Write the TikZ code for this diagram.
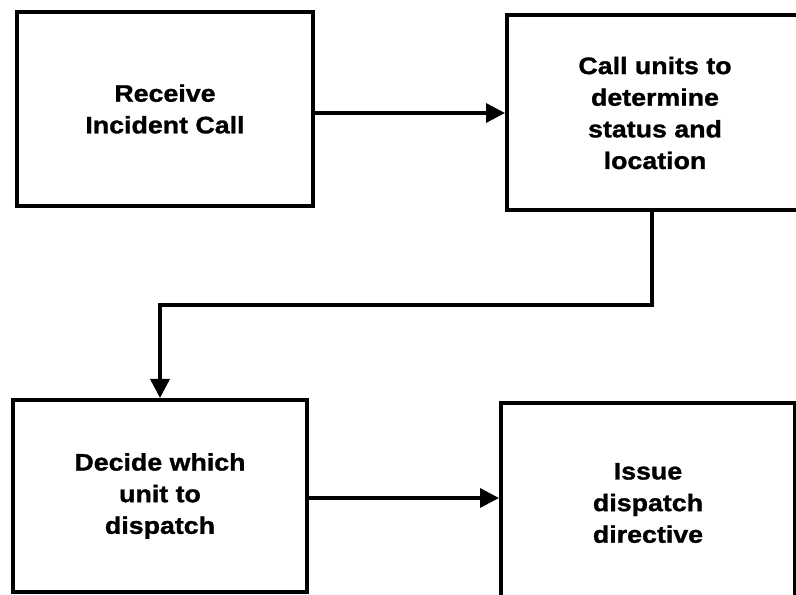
\documentclass[tikz,border=0pt]{standalone}
\usepackage{fontspec}
\setmainfont{Liberation Sans}[FakeStretch=1.12,BoldFeatures={FakeBold=1.2}]
\usetikzlibrary{arrows.meta,positioning}

\begin{document}
\begin{tikzpicture}[x=0.25mm,y=-0.25mm,
  box/.style={draw,line width=1mm,minimum width=73.5mm,minimum height=48.5mm,align=center,font=\fontsize{17}{22.5}\selectfont\bfseries},
  flow/.style={line width=0.85mm,-{Triangle[length=4.75mm,width=4.75mm]}}]
  \useasboundingbox (0,0) rectangle (796,595);
  \node[box,minimum width=74mm] (receive) at (165,109) {Receive\\Incident Call};
  \node[box,minimum width=74mm,minimum height=48.75mm] (callunits) at (655,113) {Call units to\\determine\\status and\\location};
  \node[box,minimum width=73.25mm,minimum height=48mm] (decide) at (160,496) {Decide which\\unit to\\dispatch};
  \node[box,minimum height=50mm] (issue) at (648,503) {Issue\\dispatch\\directive};
  \coordinate (bend) at (160,305);
  \draw[flow] (receive.east |- callunits.west) -- (callunits.west);
  \draw[flow] (callunits.south -| 652,0) |- (bend) -- (decide.north);
  \draw[flow] (decide.east |- 0,498) -- (issue.west |- 0,498);
\end{tikzpicture}
\end{document}
